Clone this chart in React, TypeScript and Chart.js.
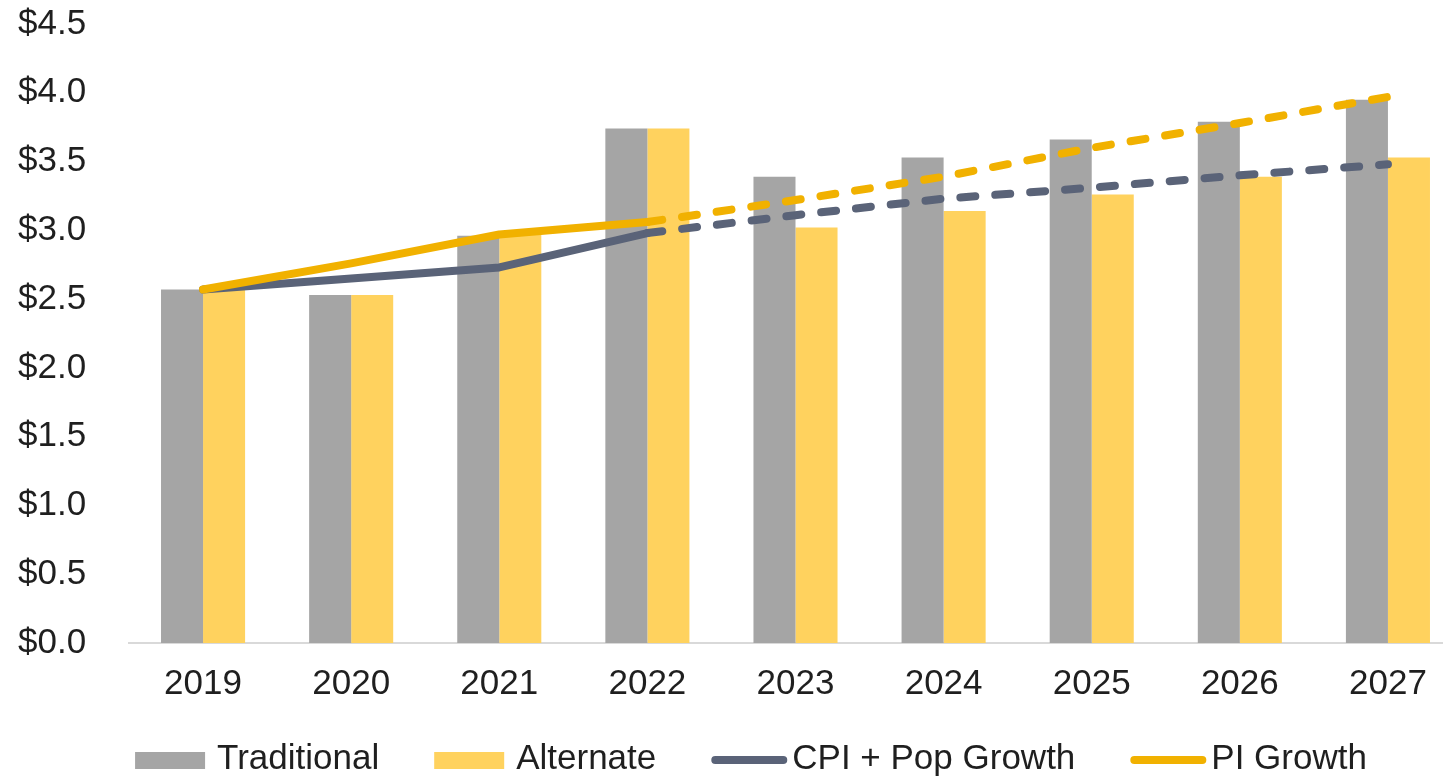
import React, { useEffect, useRef } from "react";
import { Chart, registerables } from "chart.js";

Chart.register(...registerables);

const years = ["2019", "2020", "2021", "2022", "2023", "2024", "2025", "2026", "2027"];
const traditional = [2.57, 2.53, 2.96, 3.74, 3.39, 3.53, 3.66, 3.79, 3.95];
const alternate = [2.57, 2.53, 2.97, 3.74, 3.02, 3.14, 3.26, 3.39, 3.53];
const cpiPopGrowth = [2.57, 2.65, 2.73, 2.98, 3.11, 3.23, 3.31, 3.4, 3.48];
const piGrowth = [2.57, 2.76, 2.97, 3.06, 3.22, 3.39, 3.6, 3.78, 3.97];
const yTicks = [0, 0.5, 1, 1.5, 2, 2.5, 3, 3.5, 4, 4.5];
const lastActualIndex = 3;

const GRAY = "#A5A5A5";
const YELLOW = "#FFD25E";
const SLATE = "#5A6378";
const GOLD = "#F1B100";
const FONT = "'Liberation Sans', Arial, sans-serif";
const TEXT = "#1F1F1F";

const legendItems = [
  { label: "Traditional", color: GRAY, kind: "box" },
  { label: "Alternate", color: YELLOW, kind: "box" },
  { label: "CPI + Pop Growth", color: SLATE, kind: "line" },
  { label: "PI Growth", color: GOLD, kind: "line" },
];

const legendPlugin = {
  id: "customLegend",
  afterDraw(chart: any) {
    const ctx = chart.ctx as CanvasRenderingContext2D;
    ctx.save();
    ctx.font = `35px ${FONT}`;
    const itemGap = 55;
    const widths = legendItems.map((it) => {
      const sw = it.kind === "box" ? 70 : 76;
      const g = it.kind === "box" ? 12 : 5;
      return sw + g + ctx.measureText(it.label).width;
    });
    const total = widths.reduce((a, b) => a + b, 0) + itemGap * (legendItems.length - 1);
    let x = 751 - total / 2;
    const cy = 760;
    legendItems.forEach((it, i) => {
      if (it.kind === "box") {
        ctx.fillStyle = it.color;
        ctx.fillRect(x, cy - 8, 70, 17);
      } else {
        ctx.strokeStyle = it.color;
        ctx.lineWidth = 8;
        ctx.lineCap = "round";
        ctx.beginPath();
        ctx.moveTo(x + 4, cy);
        ctx.lineTo(x + 72, cy);
        ctx.stroke();
      }
      const sw = it.kind === "box" ? 70 : 76;
      const g = it.kind === "box" ? 12 : 5;
      ctx.fillStyle = TEXT;
      ctx.textBaseline = "middle";
      ctx.textAlign = "left";
      ctx.fillText(it.label, x + sw + g, cy - 1);
      x += widths[i] + itemGap;
    });
    ctx.restore();
  },
};

export default function App() {
  const canvasRef = useRef<HTMLCanvasElement | null>(null);

  useEffect(() => {
    document.body.style.margin = "0";
    const canvas = canvasRef.current;
    if (!canvas) return;
    const dashed = (c: any) => (c.p0DataIndex >= lastActualIndex ? [15, 20] : undefined);
    const chart = new Chart(canvas, {
      type: "bar",
      data: {
        labels: years,
        datasets: [
          {
            type: "line",
            label: "PI Growth",
            data: piGrowth,
            borderColor: GOLD,
            backgroundColor: GOLD,
            borderWidth: 8,
            borderCapStyle: "round",
            borderJoinStyle: "round",
            pointRadius: 0,
            tension: 0,
            order: 0,
            segment: { borderDash: dashed },
          } as any,
          {
            type: "line",
            label: "CPI + Pop Growth",
            data: cpiPopGrowth,
            borderColor: SLATE,
            backgroundColor: SLATE,
            borderWidth: 8,
            borderCapStyle: "round",
            borderJoinStyle: "round",
            pointRadius: 0,
            tension: 0,
            order: 1,
            segment: { borderDash: dashed },
          } as any,
          {
            type: "bar",
            label: "Traditional",
            data: traditional,
            backgroundColor: GRAY,
            borderWidth: 0,
            categoryPercentage: 0.5676,
            barPercentage: 1,
            order: 2,
          },
          {
            type: "bar",
            label: "Alternate",
            data: alternate,
            backgroundColor: YELLOW,
            borderWidth: 0,
            categoryPercentage: 0.5676,
            barPercentage: 1,
            order: 3,
          },
        ],
      },
      options: {
        responsive: false,
        animation: false,
        devicePixelRatio: 1,
        layout: { autoPadding: false, padding: { top: 24, left: 18, right: 0, bottom: 73 } },
        plugins: {
          legend: { display: false },
          tooltip: { enabled: false },
        },
        scales: {
          x: {
            offset: true,
            grid: { display: false, drawTicks: false },
            border: { display: true, color: "#D9D9D9", width: 2 },
            ticks: {
              padding: 20,
              color: TEXT,
              font: { family: FONT, size: 35 },
              maxRotation: 0,
              autoSkip: false,
            },
            afterFit: (scale: any) => {
              scale.height = 62;
            },
          },
          y: {
            min: 0,
            max: 4.5,
            afterBuildTicks: (scale: any) => {
              scale.ticks = yTicks.map((v) => ({ value: v }));
            },
            grid: { display: false, drawTicks: false },
            border: { display: false },
            ticks: {
              padding: 0,
              crossAlign: "far",
              color: TEXT,
              font: { family: FONT, size: 35 },
              callback: (v: any) => "$" + Number(v).toFixed(1),
            },
            afterFit: (scale: any) => {
              scale.width = 111;
            },
          },
        },
      },
      plugins: [legendPlugin],
    });
    return () => chart.destroy();
  }, []);

  return (
    <div
      style={{
        position: "fixed",
        left: 0,
        top: 0,
        width: 1443,
        height: 778,
        overflow: "hidden",
        background: "#fff",
      }}
    >
      <canvas ref={canvasRef} width={1462} height={778} style={{ display: "block" }} />
    </div>
  );
}
